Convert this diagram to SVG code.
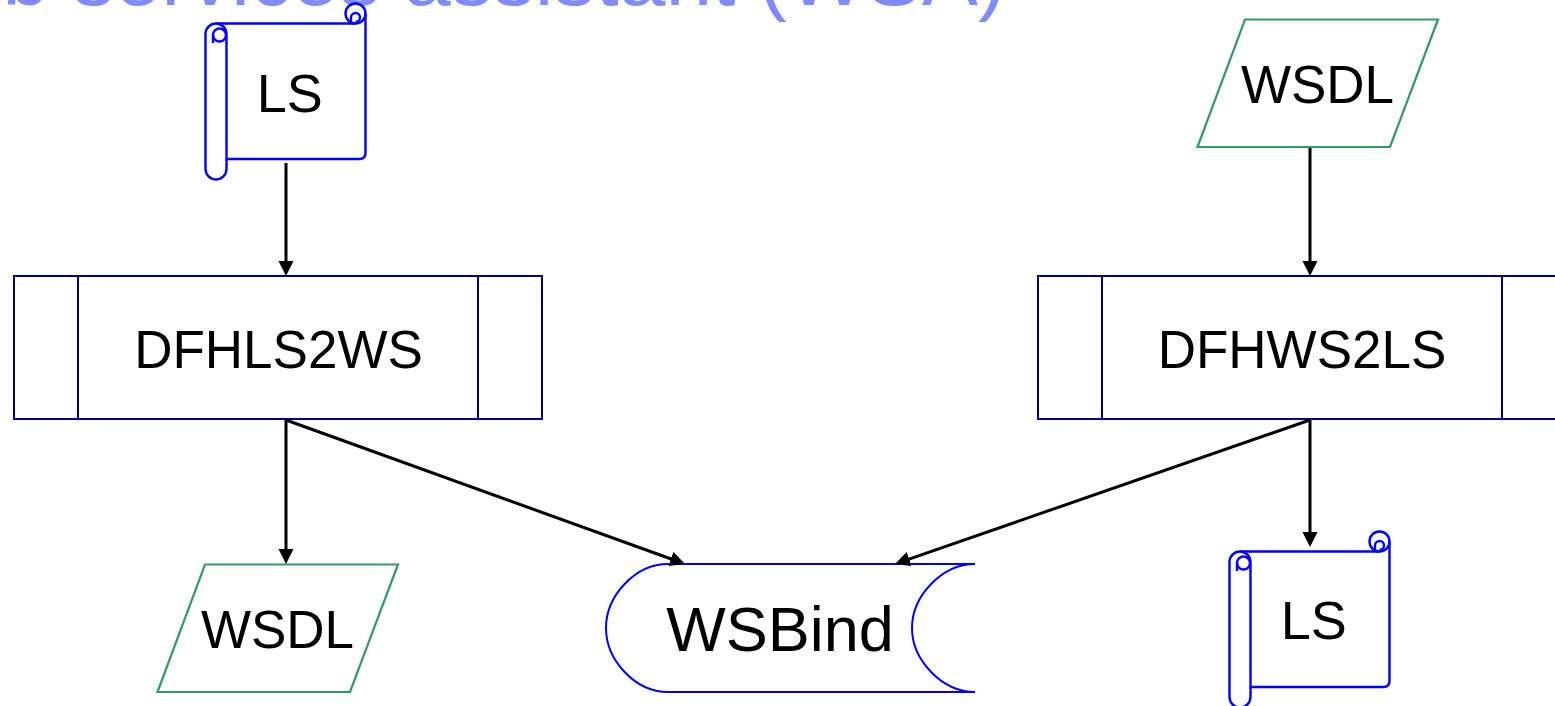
<svg xmlns="http://www.w3.org/2000/svg" xmlns:xlink="http://www.w3.org/1999/xlink" width="1555" height="706" viewBox="0 0 1555 706">
<style>
  .lbl { font-family: "Liberation Sans", Arial, sans-serif; fill: #000; text-anchor: middle; }
  .title { font-family: "Liberation Sans", Arial, sans-serif; fill: #7f8cff; font-size: 84px; }
  .scroll { fill: #fff; stroke: #0000ff; stroke-width: 2.4; }
  .scrolln { fill: none; stroke: #0000ff; stroke-width: 2.4; }
  .proc { fill: #fff; stroke: #000080; stroke-width: 2; }
  .data { fill: #fff; stroke: #339966; stroke-width: 2.2; stroke-linejoin: miter; }
  .store { fill: #fff; stroke: #0000ff; stroke-width: 2; }
  .conn { fill: none; stroke: #000; stroke-width: 3; }
</style>
<defs>
  <marker id="arrow" markerUnits="userSpaceOnUse" markerWidth="16" markerHeight="16" refX="4" refY="7.5" orient="auto" viewBox="0 0 16 16">
    <path d="M0,0 L15,7.5 L0,15 Z" fill="#000"/>
  </marker>
  <g id="scrollShape">
    <path d="M 11 20.5 H 150.5 L 160.5 10.5 V 150 Q 160.5 156 154.5 156 H 11 Z" fill="#fff" stroke="none"/>
    <path class="scrolln" d="M 11 20.5 H 150.5"/>
    <circle class="scroll" cx="150.5" cy="10.5" r="10"/>
    <path class="scrolln" d="M 160.5 10.5 V 150 Q 160.5 156 154.5 156 H 21.5"/>
    <path class="scrolln" d="M 146 20.5 V 14.5 A 4.5 4.5 0 1 1 150.5 19"/>
    <rect class="scroll" x="0.5" y="20.5" width="21" height="156" rx="10.5" ry="10.5"/>
    <circle class="scrolln" cx="14.5" cy="32" r="6.5"/>
    <path class="scrolln" d="M 8 32 V 40"/>
  </g>
</defs>
<rect width="1555" height="706" fill="#fff"/>
<text class="title" x="-122" y="4.5">Web services assistant (WSA)</text>

<g id="node-ls-top">
  <use xlink:href="#scrollShape" href="#scrollShape" transform="translate(205,3)"/>
  <text class="lbl" x="289.7" y="111.7" font-size="54">LS</text>
</g>

<g id="node-wsdl-top">
  <polygon class="data" points="1245,19.5 1438,19.5 1390,147 1197.5,147"/>
  <text class="lbl" x="1317.5" y="103" font-size="53">WSDL</text>
</g>

<g id="node-dfhls2ws">
  <rect class="proc" x="14" y="276" width="528" height="143"/>
  <line class="proc" x1="78" y1="276" x2="78" y2="419"/>
  <line class="proc" x1="478" y1="276" x2="478" y2="419"/>
  <text class="lbl" x="278.5" y="368" font-size="53">DFHLS2WS</text>
</g>

<g id="node-dfhws2ls">
  <rect class="proc" x="1038" y="276" width="528" height="143"/>
  <line class="proc" x1="1102" y1="276" x2="1102" y2="419"/>
  <line class="proc" x1="1502" y1="276" x2="1502" y2="419"/>
  <text class="lbl" x="1302" y="368" font-size="53">DFHWS2LS</text>
</g>

<g id="node-wsdl-bottom">
  <polygon class="data" points="205,564.5 398,564.5 350,692 157.5,692"/>
  <text class="lbl" x="277.5" y="648" font-size="53">WSDL</text>
</g>

<g id="node-wsbind">
  <path class="store" d="M 668 564 H 975 C 942 564 912 596 912 628 C 912 660 942 692 975 692 H 668 C 635 692 606 660 606 628 C 606 596 635 564 668 564 Z"/>
  <text class="lbl" x="780" y="650.5" font-size="63">WSBind</text>
</g>

<g id="node-ls-bottom">
  <use xlink:href="#scrollShape" href="#scrollShape" transform="translate(1229,531)"/>
  <text class="lbl" x="1313.7" y="639.3" font-size="54">LS</text>
</g>

<g id="connectors">
  <line class="conn" x1="286" y1="163" x2="286" y2="265" marker-end="url(#arrow)"/>
  <line class="conn" x1="1310" y1="148" x2="1310" y2="265" marker-end="url(#arrow)"/>
  <line class="conn" x1="286" y1="420" x2="286" y2="553" marker-end="url(#arrow)"/>
  <line class="conn" x1="286" y1="420" x2="674.65" y2="560.27" marker-end="url(#arrow)"/>
  <line class="conn" x1="1310" y1="420" x2="1310" y2="536" marker-end="url(#arrow)"/>
  <line class="conn" x1="1310" y1="420" x2="905.39" y2="560.39" marker-end="url(#arrow)"/>
</g>
</svg>
